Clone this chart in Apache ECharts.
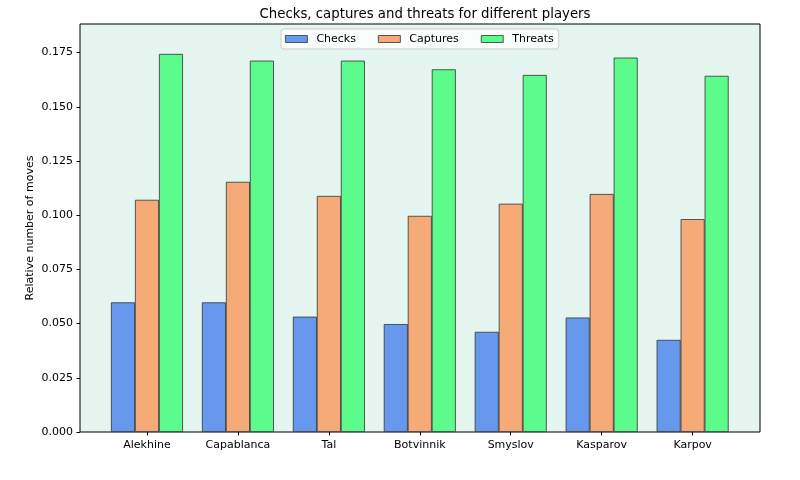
<!DOCTYPE html>
<html><head><meta charset="utf-8">
<script src="https://cdn.jsdelivr.net/npm/echarts@6/dist/echarts.min.js"></script>
<style>html,body{margin:0;padding:0;background:#fff}#c{width:800px;height:480px}</style>
</head><body><div id="c"></div>
<script>
const categories = ['Alekhine','Capablanca','Tal','Botvinnik','Smyslov','Kasparov','Karpov'];
const checks   = [0.0598, 0.0598, 0.0532, 0.0498, 0.0462, 0.0528, 0.0425];
const captures = [0.1071, 0.1154, 0.1089, 0.0997, 0.1053, 0.1098, 0.0982];
const threats  = [0.1744, 0.1713, 0.1713, 0.1673, 0.1647, 0.1727, 0.1643];
const yTicks = [0, 0.025, 0.05, 0.075, 0.1, 0.125, 0.15, 0.175];

const font = 'DejaVu Sans';
const edge = {borderColor:'#333', borderWidth:0.8};
const chart = echarts.init(document.getElementById('c'));
const yMax = 0.1882;
chart.setOption({
  animation:false,
  textStyle:{fontFamily:font},
  title:{text:'Checks, captures and threats for different players', left:420, top:3, textAlign:'center',
    textStyle:{fontFamily:font, fontSize:13.3, fontWeight:'normal', color:'#000'}},
  legend:{top:29, left:281, icon:'rect', itemWidth:22, itemHeight:7, itemGap:22, padding:[4.5,5,4.5,4],
    borderColor:'#ccc', borderWidth:1, borderRadius:3, backgroundColor:'rgba(255,255,255,0.8)',
    textStyle:{fontFamily:font, fontSize:11, color:'#000', padding:[0,0,0,4]},
    itemStyle:{borderColor:'#333', borderWidth:0.8},
    data:['Checks','Captures','Threats']},
  grid:[
    {left:80, right:40, top:24, bottom:48, show:true, backgroundColor:'#e5f6f0', borderColor:'#000', borderWidth:1},
    {left:101.5, width:636.6, top:24, bottom:48}
  ],
  xAxis:[
    {gridIndex:0, type:'value', min:0, max:1, show:false},
    {gridIndex:1, type:'category', data:categories,
     axisLine:{show:false}, axisTick:{show:true, alignWithLabel:true, length:3.5, lineStyle:{color:'#000'}},
     axisLabel:{fontFamily:font, fontSize:11, color:'#000', margin:8}}
  ],
  yAxis:[
    {gridIndex:0, type:'value', min:0, max:yMax, interval:0.025,
     name:'Relative number of moves', nameLocation:'middle', nameGap:44, nameRotate:90, nameMoveOverlap:false,
     nameTextStyle:{fontFamily:font, fontSize:11, color:'#000'},
     axisLine:{show:false}, axisTick:{show:true, length:3.5, lineStyle:{color:'#000'}},
     splitLine:{show:false},
     axisLabel:{fontFamily:font, fontSize:11, color:'#000', margin:7, showMaxLabel:false,
       formatter:v => yTicks.some(t=>Math.abs(t-v)<1e-9) ? v.toFixed(3) : ''}},
    {gridIndex:1, type:'value', min:0, max:yMax, show:false}
  ],
  series:[
    {name:'Checks', type:'bar', xAxisIndex:1, yAxisIndex:1, data:checks, barWidth:24, barGap:'0%',
     itemStyle:Object.assign({color:'#6699ee'}, edge)},
    {name:'Captures', type:'bar', xAxisIndex:1, yAxisIndex:1, data:captures, barWidth:24, barGap:'0%',
     itemStyle:Object.assign({color:'#f6aa78'}, edge)},
    {name:'Threats', type:'bar', xAxisIndex:1, yAxisIndex:1, data:threats, barWidth:24, barGap:'0%',
     itemStyle:Object.assign({color:'#5bfc8b'}, edge)}
  ]
});
</script></body></html>
